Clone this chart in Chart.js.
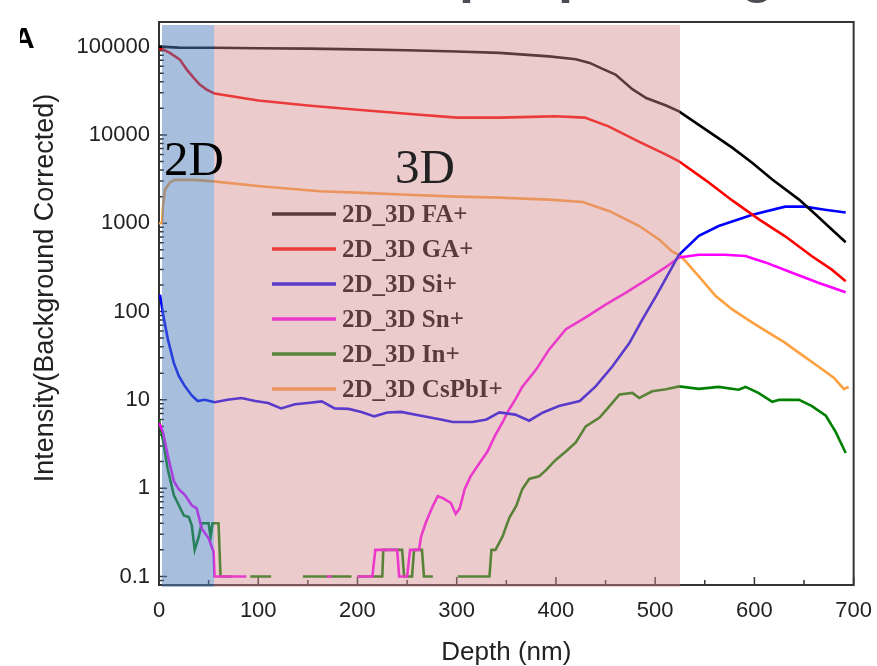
<!DOCTYPE html>
<html>
<head>
<meta charset="utf-8">
<script src="https://cdn.jsdelivr.net/npm/chart.js@4.4.0/dist/chart.umd.min.js"></script>
<style>
  body { margin: 0; background: #fff; }
  #wrap { position: relative; width: 877px; height: 666px; overflow: hidden; }
  #topText { position: absolute; left: 390px; top: -54px; font: bold 54px "Liberation Sans", Arial, sans-serif; line-height: 54px; color: #4a4d52; white-space: nowrap; }
  #panel { position: absolute; left: 20px; top: 24px; width: 18px; height: 30px; overflow: hidden; }
  #panel span { position: absolute; left: -7px; top: -3px; font: bold 30px "Liberation Sans", Arial, sans-serif; color: #000; }
  canvas { position: absolute; left: 0; top: 0; }
</style>
</head>
<body>
<div id="wrap">
  <canvas id="chart" width="877" height="666"></canvas>
  <div id="topText">Depth profiling</div>
  <div id="panel"><span>A</span></div>
</div>
<script>
/* ------------------ DATA ------------------ */
const xTickVals = [0, 100, 200, 300, 400, 500, 600, 700];
const yTickVals = [0.1, 1, 10, 100, 1000, 10000, 100000];

// shaded layers (depth, nm)
const layer2D = [3, 55.5];
const layer3D = [55.5, 525];

const faDepth = [0, 20, 55, 100, 150, 200, 250, 300, 343, 393, 420, 434, 447, 460, 477, 491, 511, 524, 551, 578, 598, 618, 645, 662, 678, 692];
const faInt   = [100000, 97500, 97000, 96000, 95000, 93000, 91000, 88000, 85000, 77600, 72000, 65400, 56000, 48200, 33000, 26200, 21500, 18500, 11500, 7130, 4820, 3120, 1850, 1250, 850, 608];

const gaDepth = [0, 1, 11, 21, 28, 35, 41, 48, 56, 100, 150, 200, 250, 300, 343, 376, 399, 429, 453, 483, 511, 524, 551, 578, 605, 631, 658, 678, 692];
const gaInt   = [100000, 97000, 84800, 71300, 54900, 44300, 37200, 32600, 29400, 24500, 21500, 19300, 17400, 15700, 15700, 16000, 16300, 15700, 12500, 8470, 5990, 5030, 3060, 1800, 1100, 711, 422, 298, 220];

const siDepth = [0, 1, 4, 9, 15, 20, 26, 33, 39, 46, 56, 69, 83, 97, 110, 123, 137, 150, 164, 177, 191, 204, 217, 230, 244, 264, 284, 296, 316, 330, 343, 359, 373, 387, 403, 424, 440, 457, 474, 487, 501, 514, 524, 544, 564, 598, 631, 651, 671, 692];
const siInt   = [150, 155, 95, 48, 26, 18.5, 14.3, 11.2, 9.7, 10, 9.4, 10, 10.5, 9.7, 9.2, 8.0, 8.9, 9.2, 9.6, 8.0, 7.9, 7.3, 6.5, 7.2, 7.3, 6.6, 6.0, 5.6, 5.6, 6.0, 7.2, 6.8, 5.8, 7.2, 8.5, 9.7, 14.2, 24, 44, 81, 150, 275, 440, 720, 930, 1250, 1540, 1540, 1420, 1320];

const snDepth = [0, 4, 9, 15, 20, 26, 33, 38, 43, 50, 55, 56, 70, 88, 89, 169, 174, 175, 200, 215, 218, 240, 242, 250, 253, 262, 264, 269, 276, 281, 286, 294, 299, 303, 308, 314, 322, 331, 339, 346, 352, 360, 366, 380, 393, 410, 430, 450, 471, 491, 511, 524, 544, 570, 591, 611, 638, 665, 692];
const snInt   = [5.5, 4.3, 2.3, 1.2, 0.97, 0.84, 0.64, 0.59, 0.35, 0.27, 0.19, 0.1, 0.1, 0.1, null, 0.1, 0.1, null, 0.1, 0.1, 0.2, 0.2, 0.1, 0.1, 0.2, 0.2, 0.28, 0.41, 0.63, 0.81, 0.77, 0.68, 0.51, 0.59, 0.97, 1.36, 1.85, 2.6, 4.0, 5.5, 7.5, 10.5, 14, 22, 37, 63, 86, 120, 165, 228, 320, 410, 440, 440, 425, 360, 275, 210, 165];

const inDepth = [0, 4, 9, 15, 20, 25, 30, 33, 36, 40, 43, 50, 52, 54, 60, 62, 73, 74, 92, 113, 114, 145, 194, 195, 200, 225, 226, 245, 247, 255, 257, 265, 267, 276, 277, 301, 333, 335, 339, 346, 353, 360, 366, 373, 383, 390, 400, 410, 420, 430, 444, 454, 464, 477, 484, 497, 511, 524, 544, 564, 584, 591, 604, 618, 625, 645, 658, 672, 682, 692];
const inInt   = [6, 3.5, 1.6, 0.83, 0.64, 0.49, 0.47, 0.38, 0.2, 0.28, 0.4, 0.4, 0.28, 0.4, 0.4, 0.1, 0.1, null, 0.1, 0.1, null, 0.1, 0.1, null, 0.1, 0.1, 0.2, 0.2, 0.1, 0.1, 0.2, 0.2, 0.1, 0.1, null, 0.1, 0.1, 0.2, 0.2, 0.28, 0.46, 0.63, 0.97, 1.27, 1.36, 1.6, 2.1, 2.6, 3.3, 5.0, 6.3, 8.5, 11.5, 12, 10.5, 12.5, 13.2, 14.2, 13.3, 14, 13, 14, 12, 9.5, 10, 10, 8.5, 6.6, 4.3, 2.5];

const csDepth = [0, 3, 4, 6, 11, 16, 35, 55, 102, 162, 200, 250, 300, 343, 393, 427, 454, 484, 504, 517, 526, 544, 561, 578, 598, 615, 630, 645, 664, 680, 690, 695];
const csInt   = [1000, 1000, 1550, 2400, 2900, 3100, 3100, 2980, 2620, 2300, 2220, 2100, 2000, 1950, 1850, 1740, 1370, 930, 655, 480, 425, 250, 150, 105, 75, 57, 45, 34, 24, 17.8, 13.3, 14];

function pts(xs, ys) {
    return xs.map((x, i) => ({ x: x, y: ys[i] }));
}

function series(label, xs, ys, color) {
    return {
        label: label,
        data: pts(xs, ys),
        borderColor: color,
        backgroundColor: color,
        borderWidth: 2.6,
        pointRadius: 0,
        tension: 0,
        spanGaps: false
    };
}

/* ------------------ PLUGIN: frame, ticks, legend, shading ------------------ */
const decorPlugin = {
    id: "decor",
    beforeDatasetsDraw(chart) {
        const ctx = chart.ctx;
        const a = chart.chartArea;
        const xs = chart.scales.x;
        const ys = chart.scales.y;

        ctx.save();
        // frame
        ctx.strokeStyle = "#333";
        ctx.lineWidth = 2;
        ctx.strokeRect(a.left, a.top, a.right - a.left, a.bottom - a.top);

        // inward ticks
        ctx.lineWidth = 1.5;
        ctx.beginPath();
        xTickVals.forEach(v => {
            const px = xs.getPixelForValue(v);
            ctx.moveTo(px, a.bottom); ctx.lineTo(px, a.bottom - 8);
            if (v + 50 < xs.max) {
                const pm = xs.getPixelForValue(v + 50);
                ctx.moveTo(pm, a.bottom); ctx.lineTo(pm, a.bottom - 5);
            }
        });
        const firstDec = yTickVals[0] / 10;
        [firstDec].concat(yTickVals).forEach(d => {
            if (d >= ys.min) {
                const py = ys.getPixelForValue(d);
                ctx.moveTo(a.left, py); ctx.lineTo(a.left + 8, py);
            }
            for (let k = 2; k <= 9; k++) {
                const v = d * k;
                if (v < ys.min || v > ys.max) continue;
                const pm = ys.getPixelForValue(v);
                ctx.moveTo(a.left, pm); ctx.lineTo(a.left + 5, pm);
            }
        });
        ctx.stroke();

        // legend inside the plot
        chart.data.datasets.forEach((ds, i) => {
            const ly = a.top + 192 + i * 35;
            ctx.strokeStyle = ds.borderColor;
            ctx.lineWidth = 3.5;
            ctx.beginPath();
            ctx.moveTo(272, ly); ctx.lineTo(336, ly);
            ctx.stroke();
            ctx.fillStyle = "#000";
            ctx.font = 'bold 25px "Liberation Serif", "Times New Roman", serif';
            ctx.textBaseline = "middle";
            ctx.textAlign = "left";
            ctx.fillText(ds.label, 342, ly + 2);
        });
        ctx.restore();
    },
    afterDatasetsDraw(chart) {
        const ctx = chart.ctx;
        const a = chart.chartArea;
        const xs = chart.scales.x;
        const ys = chart.scales.y;
        const top = a.top + 3;
        const bot = a.bottom + 2;

        ctx.save();
        // semi-transparent layer boxes over the curves
        let x0 = xs.getPixelForValue(layer2D[0]);
        let x1 = xs.getPixelForValue(layer2D[1]);
        ctx.fillStyle = "rgba(79,127,185,0.5)";
        ctx.fillRect(x0, top, x1 - x0, bot - top);

        x0 = xs.getPixelForValue(layer3D[0]);
        x1 = xs.getPixelForValue(layer3D[1]);
        ctx.fillStyle = "rgba(209,135,135,0.43)";
        ctx.fillRect(x0, top, x1 - x0, bot - top);

        // layer labels
        ctx.font = '49px "Liberation Serif", "Times New Roman", serif';
        ctx.textBaseline = "middle";
        ctx.fillStyle = "#000";
        ctx.textAlign = "left";
        ctx.fillText("2D", xs.getPixelForValue(5), ys.getPixelForValue(4900));
        ctx.fillStyle = "#222";
        ctx.textAlign = "center";
        ctx.fillText("3D", xs.getPixelForValue(268), ys.getPixelForValue(4000));
        ctx.restore();
    },
    afterDraw(chart) {
        // y axis title, placed like the reference (slightly above the plot centre)
        const ctx = chart.ctx;
        ctx.save();
        ctx.translate(46, 288);
        ctx.rotate(-Math.PI / 2);
        ctx.font = '27px "Liberation Sans", Arial, sans-serif';
        ctx.fillStyle = "#222";
        ctx.textAlign = "center";
        ctx.textBaseline = "middle";
        ctx.fillText("Intensity(Background Corrected)", 0, 0);
        ctx.restore();
    }
};

/* ------------------ CHART ------------------ */
const tickFont = { family: '"Liberation Sans", Arial, sans-serif', size: 22 };

new Chart(document.getElementById("chart").getContext("2d"), {
    type: "line",
    data: {
        datasets: [
            series("2D_3D FA+", faDepth, faInt, "#000000"),
            series("2D_3D GA+", gaDepth, gaInt, "#ff0000"),
            series("2D_3D Si+", siDepth, siInt, "#0000ff"),
            series("2D_3D Sn+", snDepth, snInt, "#ff00ff"),
            series("2D_3D In+", inDepth, inInt, "#008000"),
            series("2D_3D CsPbI+", csDepth, csInt, "#ffa040")
        ]
    },
    options: {
        responsive: false,
        animation: false,
        layout: { padding: { top: 22, right: 16, left: 0, bottom: 0 } },
        plugins: {
            legend: { display: false },
            tooltip: { enabled: false }
        },
        scales: {
            x: {
                type: "linear",
                min: 0,
                max: 700,
                grid: { display: false },
                border: { display: true, color: "#333", width: 2 },
                ticks: { stepSize: 100, color: "#222", font: tickFont, padding: 5, maxRotation: 0 },
                title: {
                    display: true,
                    text: "Depth (nm)",
                    color: "#222",
                    font: { family: '"Liberation Sans", Arial, sans-serif', size: 26 },
                    padding: { top: 0, bottom: -2 }
                },
                afterFit: s => { s.height = 81; }
            },
            y: {
                type: "logarithmic",
                min: 0.08,
                max: 190000,
                bounds: "data",
                grid: { display: false },
                border: { display: true, color: "#333", width: 2 },
                afterBuildTicks: s => { s.ticks = yTickVals.map(v => ({ value: v })); },
                ticks: {
                    autoSkip: false,
                    color: "#222",
                    font: tickFont,
                    padding: 1,
                    callback: v => String(v)
                },
                title: { display: false },
                afterFit: s => { s.width = 159; }
            }
        }
    },
    plugins: [decorPlugin]
});
</script>
</body>
</html>
